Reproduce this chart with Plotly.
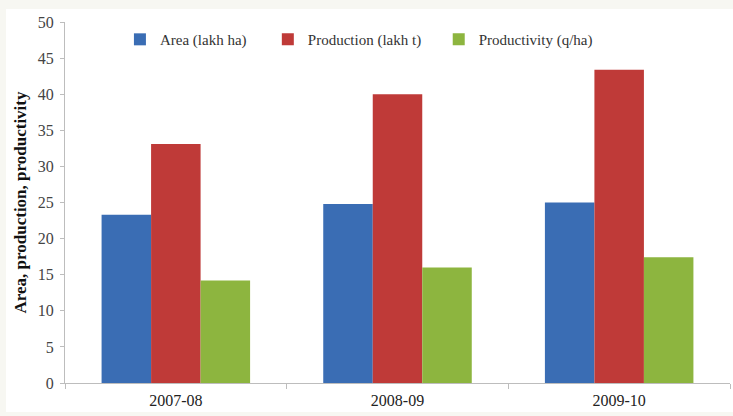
import plotly.graph_objects as go

categories = ["2007-08", "2008-09", "2009-10"]
area = [23.3, 24.8, 25.0]
production = [33.1, 40.0, 43.4]
productivity = [14.2, 16.0, 17.4]
series_names = ["Area (lakh ha)", "Production (lakh t)", "Productivity (q/ha)"]
colors = ["#3a6db4", "#bf3a38", "#8db53f"]
y_ticks = [0, 5, 10, 15, 20, 25, 30, 35, 40, 45, 50]

legend_ids = ["legend", "legend2", "legend3"]
legend_x = [0.0826, 0.305, 0.562]

fig = go.Figure()
for name, vals, col, lg in zip(series_names, [area, production, productivity], colors, legend_ids):
    fig.add_trace(go.Bar(x=categories, y=vals, name=name, legend=lg,
                         marker=dict(color=col, line=dict(width=0))))

legend_common = dict(orientation="h", xanchor="left", y=0.997, yanchor="top",
                     font=dict(family="Liberation Serif", size=15, color="#333"),
                     bgcolor="rgba(0,0,0,0)", itemwidth=30)

fig.update_layout(
    width=733, height=416,
    margin=dict(l=65, r=3, t=22, b=33, autoexpand=False),
    paper_bgcolor="white", plot_bgcolor="white",
    barmode="group", bargap=0.33, bargroupgap=0,
    font=dict(family="Liberation Serif", size=16, color="#222"),
    showlegend=True,
    legend=dict(x=legend_x[0], **legend_common),
    legend2=dict(x=legend_x[1], **legend_common),
    legend3=dict(x=legend_x[2], **legend_common),
    xaxis=dict(type="category", showline=True, linecolor="#bdbdbd", linewidth=1,
               ticks="outside", tickson="boundaries", ticklen=5, tickcolor="#bdbdbd",
               ticklabelstandoff=3,
               tickfont=dict(size=16, color="#222"), showgrid=False, zeroline=False),
    yaxis=dict(range=[0, 50], tickvals=y_ticks, showline=True, linecolor="#bdbdbd",
               linewidth=1, ticks="outside", ticklen=4, tickcolor="#bdbdbd",
               ticklabelstandoff=3,
               tickfont=dict(size=16, color="#444"), showgrid=False, zeroline=False,
               title=dict(text="<b>Area, production, productivity</b>",
                          font=dict(size=17, color="#111"), standoff=6)),
)
strip = dict(type="rect", xref="paper", yref="paper", fillcolor="#f7f7f2",
             line=dict(width=0), layer="below")
fig.add_shape(x0=-0.2, x1=1.1, y0=1.036, y1=1.2, **strip)
fig.add_shape(x0=-0.2, x1=-0.0887, y0=-0.2, y1=1.2, **strip)
fig.add_shape(x0=-0.2, x1=1.1, y0=-0.2, y1=-0.080, **strip)
fig.write_html("out.html", config={"displayModeBar": False},
               post_script="document.body.style.margin='0';")
